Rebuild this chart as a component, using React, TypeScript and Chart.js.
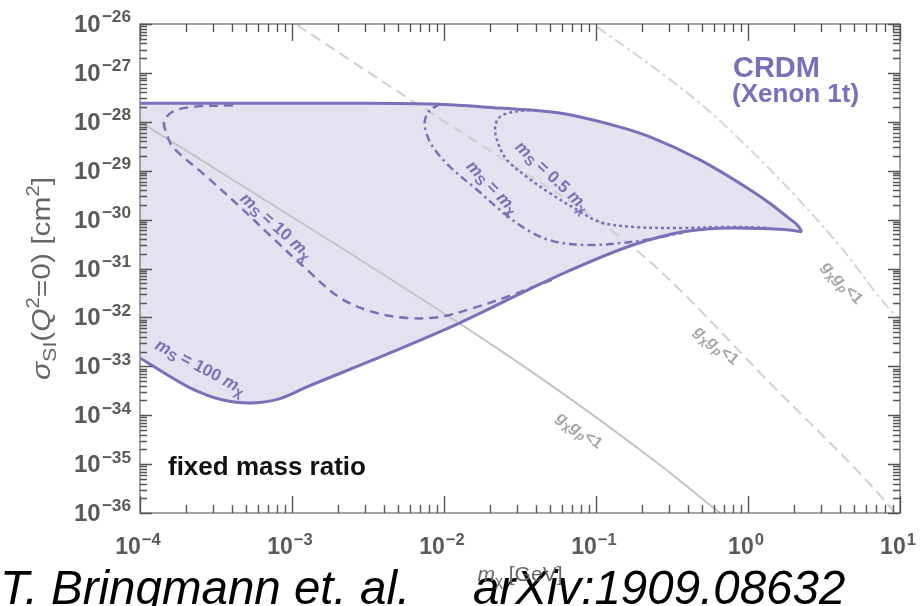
import React, { useEffect, useRef } from "react";
import { Chart, registerables } from "chart.js";

Chart.register(...registerables);

// ---- data (log10 of m_chi [GeV] and log10 of sigma [cm^2]) ----
const upperLogM = [-4, -3, -2.5, -2.03, -1.63, -1.24, -0.84, -0.645, -0.316, 0.013, 0.15, 0.26, 0.33, 0.355];
const upperLogS = [-27.62, -27.62, -27.62, -27.64, -27.72, -27.82, -28.11, -28.31, -28.78, -29.39, -29.68, -29.95, -30.13, -30.25];

const lowerLogM = [-4, -3.671, -3.454, -3.276, -3.079, -2.901, -2.467, -1.895, -1.237, -0.757, -0.428, -0.099, 0.257, 0.355];
const lowerLogS = [-32.83, -33.44, -33.69, -33.75, -33.66, -33.42, -32.87, -32.11, -31.13, -30.52, -30.25, -30.17, -30.21, -30.25];

const ms10LogM = [-3.388, -3.671, -3.789, -3.842, -3.822, -3.783, -3.559, -3.342, -3.125, -2.914, -2.684, -2.467, -2.243, -2.026, -1.809, -1.586, -1.257];
const ms10LogS = [-27.66, -27.70, -27.80, -28.0, -28.27, -28.52, -29.13, -29.74, -30.38, -30.99, -31.60, -31.89, -32.01, -31.99, -31.81, -31.58, -31.19];

const ms1LogM = [-2.026, -2.092, -2.125, -2.118, -2.072, -1.961, -1.783, -1.632, -1.454, -1.283, -1.059, -0.842, -0.645, -0.428];
const ms1LogS = [-27.64, -27.76, -27.96, -28.21, -28.52, -28.92, -29.39, -29.80, -30.21, -30.44, -30.52, -30.48, -30.40, -30.27];

const ms05LogM = [-1.434, -1.546, -1.632, -1.664, -1.645, -1.586, -1.454, -1.303, -1.125, -0.974, -0.757, -0.447, -0.099, 0.145];
const ms05LogS = [-27.76, -27.80, -27.90, -28.11, -28.43, -28.78, -29.13, -29.46, -29.80, -30.05, -30.15, -30.17, -30.15, -30.17];

const grayLowLogM = [-4, -2.684, -1.632, -0.974, -0.579, -0.184];
const grayLowLogS = [-28.0, -30.56, -32.67, -34.10, -35.02, -36.0];

const grayMidLogM = [-2.967, -2.289, -1.632, -0.974, -0.599, 0.125, 0.914, 0.99];
const grayMidLogS = [-26.02, -27.41, -28.72, -30.05, -30.99, -33.28, -35.80, -36.1];

const grayHighLogM = [-0.993, -0.65, -0.316, -0.099, 0.2, 0.474, 0.625, 0.954, 1.033];
const grayHighLogS = [-26.06, -26.82, -27.62, -28.23, -29.15, -30.07, -30.62, -31.91, -32.11];

const xTickExps = [-4, -3, -2, -1, 0, 1];
const yTickExps = [-26, -27, -28, -29, -30, -31, -32, -33, -34, -35, -36];

// ---- styling ----
const FONT = '"Liberation Sans", Arial, sans-serif';
const PURPLE = "rgb(124,111,184)";
const FILL = "rgb(229,226,240)";
const GRAY_TEXT = "#a6a6a6";
const AXIS_TEXT = "#5a5a5a";

type Seg = { t: string; i?: boolean; b?: boolean; s?: number; dy?: number; gap?: number };

function segFont(g: Seg, size: number, bold: boolean) {
  const sz = size * (g.s ?? 1);
  const w = g.b ?? bold ? "bold " : "";
  const it = g.i ? "italic " : "";
  return `${it}${w}${sz}px ${FONT}`;
}

function drawRich(
  ctx: CanvasRenderingContext2D,
  segs: Seg[],
  x: number,
  y: number,
  size: number,
  color: string,
  align: "left" | "center" | "right",
  bold = false
) {
  let total = 0;
  const widths: number[] = [];
  for (const g of segs) {
    ctx.font = segFont(g, size, bold);
    const w = ctx.measureText(g.t).width + (g.gap ?? 0);
    widths.push(w);
    total += w;
  }
  let cx = align === "left" ? x : align === "center" ? x - total / 2 : x - total;
  ctx.fillStyle = color;
  ctx.textAlign = "left";
  segs.forEach((g, k) => {
    ctx.font = segFont(g, size, bold);
    ctx.fillText(g.t, cx + (g.gap ?? 0), y + (g.dy ?? 0) * size);
    cx += widths[k];
  });
}

const msLabel = (mid: string): Seg[] => [
  { t: "m", i: true },
  { t: "S", s: 0.8, dy: 0.2 },
  { t: mid },
  { t: "m", i: true },
  { t: "χ", s: 0.8, dy: 0.2 },
];
const gLabel: Seg[] = [
  { t: "g", i: true },
  { t: "χ", s: 0.75, dy: 0.2 },
  { t: "g", i: true },
  { t: "p", i: true, s: 0.75, dy: 0.2 },
  { t: "<1" },
];
const powLabel = (e: number): Seg[] => [
  { t: "10" },
  { t: e < 0 ? "−" + Math.abs(e) : String(e), s: 0.72, dy: -0.4, gap: 1 },
];

// rotated labels placed in data coordinates (log10 m, log10 sigma), angle in degrees
const rotLabels = [
  { lx: -3.1, ly: -30.12, ang: 42, segs: msLabel(" = 10 "), color: PURPLE, size: 17 },
  { lx: -1.678, ly: -29.33, ang: 46, segs: msLabel(" = "), color: PURPLE, size: 17 },
  { lx: -1.283, ly: -29.11, ang: 43, segs: msLabel(" = 0.5 "), color: PURPLE, size: 17 },
  { lx: -3.6, ly: -33.0, ang: 28, segs: msLabel(" = 100 "), color: PURPLE, size: 17 },
  { lx: -1.105, ly: -34.3, ang: 35, segs: gLabel, color: GRAY_TEXT, size: 16 },
  { lx: -0.204, ly: -32.56, ang: 39, segs: gLabel, color: GRAY_TEXT, size: 16 },
  { lx: 0.625, ly: -31.28, ang: 47, segs: gLabel, color: GRAY_TEXT, size: 16 },
];

const pts = (lm: number[], ls: number[]) => lm.map((v, k) => ({ x: Math.pow(10, v), y: Math.pow(10, ls[k]) }));

const decorPlugin = {
  id: "decor",
  afterDatasetsDraw(chart: any) {
    const { ctx, chartArea: a, scales } = chart;
    const xs = scales.x;
    const ys = scales.y;
    const px = (lx: number) => xs.getPixelForValue(Math.pow(10, lx));
    const py = (ly: number) => ys.getPixelForValue(Math.pow(10, ly));
    ctx.save();

    // frame
    ctx.strokeStyle = "#8c8c8c";
    ctx.lineWidth = 1.6;
    ctx.strokeRect(a.left, a.top, a.right - a.left, a.bottom - a.top);

    // ticks
    ctx.strokeStyle = "#555";
    ctx.lineWidth = 1.4;
    ctx.beginPath();
    for (let k = 0; k < xTickExps.length; k++) {
      const e = xTickExps[k];
      const X = Math.round(px(e)) + 0.5;
      ctx.moveTo(X, a.top);
      ctx.lineTo(X, a.top + 17);
      ctx.moveTo(X, a.bottom);
      ctx.lineTo(X, a.bottom - 17);
      if (k < xTickExps.length - 1) {
        for (let m = 2; m <= 9; m++) {
          const Xm = Math.round(xs.getPixelForValue(m * Math.pow(10, e))) + 0.5;
          ctx.moveTo(Xm, a.top);
          ctx.lineTo(Xm, a.top + 8);
          ctx.moveTo(Xm, a.bottom);
          ctx.lineTo(Xm, a.bottom - 8);
        }
      }
    }
    for (let k = 0; k < yTickExps.length; k++) {
      const e = yTickExps[k];
      const Y = Math.round(py(e)) + 0.5;
      ctx.moveTo(a.left, Y);
      ctx.lineTo(a.left + 12, Y);
      ctx.moveTo(a.right, Y);
      ctx.lineTo(a.right - 12, Y);
      if (k < yTickExps.length - 1) {
        const lower = yTickExps[k + 1];
        for (let m = 2; m <= 9; m++) {
          const Ym = Math.round(ys.getPixelForValue(m * Math.pow(10, lower))) + 0.5;
          ctx.moveTo(a.left, Ym);
          ctx.lineTo(a.left + 7, Ym);
          ctx.moveTo(a.right, Ym);
          ctx.lineTo(a.right - 7, Ym);
        }
      }
    }
    ctx.stroke();

    // tick labels
    ctx.textBaseline = "alphabetic";
    for (const e of xTickExps) {
      drawRich(ctx, powLabel(e), px(e) - 2, 554, 23, AXIS_TEXT, "center", true);
    }
    for (const e of yTickExps) {
      drawRich(ctx, powLabel(e), a.left - 9, py(e) + 8, 24, AXIS_TEXT, "right", true);
    }

    // y axis title
    ctx.save();
    ctx.translate(50, (a.top + a.bottom) / 2 + 10);
    ctx.rotate(-Math.PI / 2);
    ctx.scale(1.15, 1);
    drawRich(
      ctx,
      [
        { t: "σ", i: true },
        { t: "SI", s: 0.72, dy: 0.22 },
        { t: "(" },
        { t: "Q", i: true },
        { t: "2", s: 0.68, dy: -0.42 },
        { t: "=0) [cm" },
        { t: "2", s: 0.68, dy: -0.42 },
        { t: "]" },
      ],
      0,
      0,
      26,
      "#666",
      "center"
    );
    ctx.restore();

    // rotated curve labels
    for (const L of rotLabels) {
      ctx.save();
      ctx.translate(px(L.lx), py(L.ly));
      ctx.rotate((L.ang * Math.PI) / 180);
      drawRich(ctx, L.segs, 0, L.size * 0.35, L.size, L.color, "center", true);
      ctx.restore();
    }

    // CRDM label
    drawRich(ctx, [{ t: "CRDM" }], px(-0.099), py(-27.08), 29, PURPLE, "left", true);
    drawRich(ctx, [{ t: "(Xenon 1t)" }], px(-0.105), py(-27.6), 26, PURPLE, "left", true);
    // fixed mass ratio
    drawRich(ctx, [{ t: "fixed mass ratio" }], px(-3.816), py(-35.22), 26, "#111", "left", true);

    // citation
    drawRich(ctx, [{ t: "T. Bringmann et. al.", i: true }], 0, 604, 47.5, "#000", "left");
    drawRich(ctx, [{ t: "arXiv:1909.08632", i: true }], 473, 604, 47.5, "#000", "left");

    // x axis title
    drawRich(
      ctx,
      [{ t: "m", i: true }, { t: "χ", s: 0.72, dy: 0.22 }, { t: " [GeV]" }],
      (a.left + a.right) / 2,
      581,
      21,
      "#666",
      "center"
    );
    ctx.restore();
  },
};

export default function App() {
  const ref = useRef<HTMLCanvasElement | null>(null);
  useEffect(() => {
    if (!ref.current) return;
    const line = (
      data: { x: number; y: number }[],
      color: string,
      width: number,
      dash: number[],
      order: number,
      extra: any = {}
    ) => ({
      data,
      borderColor: color,
      borderWidth: width,
      borderDash: dash,
      pointRadius: 0,
      fill: false,
      order,
      tension: 0.35,
      ...extra,
    });
    const mono = { cubicInterpolationMode: "monotone" };
    const chart = new Chart(ref.current, {
      type: "line",
      data: {
        datasets: [
          line(pts(upperLogM, upperLogS), PURPLE, 3, [], 1, {
            fill: "+1",
            backgroundColor: FILL,
            ...mono,
          }),
          line(pts(lowerLogM, lowerLogS), PURPLE, 3, [], 1, mono),
          line(pts(ms10LogM, ms10LogS), PURPLE, 2.5, [9, 6], 2),
          line(pts(ms1LogM, ms1LogS), PURPLE, 2.5, [8, 4, 2.5, 4], 2),
          line(pts(ms05LogM, ms05LogS), PURPLE, 2.5, [3, 3], 2),
          line(pts(grayLowLogM, grayLowLogS), "#c4c4c4", 2, [], 3, mono),
          line(pts(grayMidLogM, grayMidLogS), "#cfcfcf", 2, [11, 6], 3, mono),
          line(pts(grayHighLogM, grayHighLogS), "#d4d4d4", 2, [11, 4, 3, 4], 3, mono),
        ],
      },
      options: {
        animation: false,
        responsive: false,
        layout: { padding: { top: 24, right: 24, left: 0, bottom: 0 } },
        plugins: {
          legend: { display: false },
          tooltip: { enabled: false },
          filler: { drawTime: "beforeDatasetsDraw" },
        },
        scales: {
          x: {
            type: "logarithmic",
            min: 1e-4,
            max: 10,
            ticks: { display: false },
            grid: { display: false },
            border: { display: false },
            afterFit: (s: any) => {
              s.height = 93;
            },
          },
          y: {
            type: "logarithmic",
            min: 1e-36,
            max: 1e-26,
            ticks: { display: false },
            grid: { display: false },
            border: { display: false },
            afterFit: (s: any) => {
              s.width = 140;
            },
          },
        },
      } as any,
      plugins: [decorPlugin],
    });
    return () => chart.destroy();
  }, []);
  return (
    <div style={{ position: "absolute", left: 0, top: 0, width: 924, height: 606, background: "#fff" }}>
      <canvas ref={ref} width={924} height={606} style={{ display: "block", width: 924, height: 606 }} />
    </div>
  );
}
